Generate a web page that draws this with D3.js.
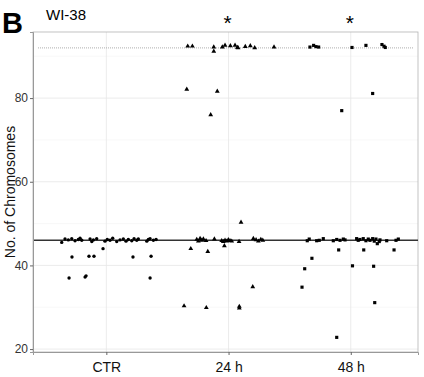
<!DOCTYPE html>
<html>
<head>
<meta charset="utf-8">
<script src="https://cdn.jsdelivr.net/npm/d3@7"></script>
<style>
  body { margin: 0; background: #fff; }
  svg { font-family: "Liberation Sans", Arial, sans-serif; }
</style>
</head>
<body>
<svg width="424" height="377"></svg>
<script>
// categories and tick labels
const groups = ['CTR', '24 h', '48 h'];
const yTicks = [20, 40, 60, 80];
const yMinor = [30, 50, 70, 90];
const refLines = { normal: 46, tetraploid: 92 };

// each point: [jitter offset in category units, number of chromosomes]
const ctrPoints = [
  [-0.365, 45.5], [-0.338, 46.3], [-0.311, 46.1], [-0.283, 46.4], [-0.256, 45.9],
  [-0.229, 46.2], [-0.215, 46.5], [-0.201, 46.0], [-0.133, 46.3], [-0.119, 45.7],
  [-0.106, 46.1], [-0.079, 46.4], [-0.011, 45.8], [0.008, 46.2], [0.030, 46.0],
  [0.052, 46.5], [0.085, 45.7], [0.112, 46.1], [0.139, 46.3], [0.161, 45.8],
  [0.180, 46.2], [0.208, 45.9], [0.227, 46.4], [0.249, 46.0], [0.262, 46.3],
  [0.331, 45.8], [0.344, 46.2], [0.358, 46.4], [0.385, 46.0], [0.407, 46.2],
  [-0.305, 37.0], [-0.281, 42.0], [-0.174, 37.2], [-0.166, 37.5], [-0.142, 42.2],
  [-0.101, 42.2], [-0.027, 44.0], [0.218, 42.0], [0.366, 42.2], [0.358, 37.0]
];

const h24Points = [
  [-0.334, 92.4], [-0.296, 92.4], [-0.121, 92.2], [-0.121, 91.2], [-0.051, 92.2],
  [-0.029, 92.6], [0.015, 92.5], [0.053, 92.6], [0.072, 92.1], [0.078, 92.0],
  [0.137, 92.3], [0.178, 92.5], [0.214, 92.0], [0.372, 92.2],
  [-0.342, 82.1], [-0.092, 81.6], [-0.146, 76.0],
  [-0.260, 46.2], [-0.247, 45.8], [-0.233, 46.4], [-0.219, 46.0], [-0.206, 46.3],
  [-0.184, 45.9], [-0.116, 46.3], [-0.056, 45.9], [-0.043, 45.7], [-0.029, 46.0],
  [-0.015, 45.8], [-0.002, 46.1], [0.012, 45.9], [0.026, 45.8], [0.086, 45.7],
  [0.203, 46.4], [0.225, 46.1], [0.244, 45.8], [0.264, 46.2], [0.280, 46.0],
  [-0.309, 44.0], [-0.170, 43.3], [-0.034, 44.7], [0.102, 50.3], [0.198, 34.9],
  [-0.364, 30.3], [-0.182, 29.9], [0.088, 30.2], [0.088, 29.8]
];

const h48Points = [
  [-0.334, 92.2], [-0.304, 92.6], [-0.285, 92.3], [-0.263, 92.2], [0.010, 92.1],
  [0.124, 92.6], [0.255, 92.8], [0.272, 92.4], [0.282, 92.1],
  [0.179, 81.1], [-0.074, 77.0],
  [-0.356, 45.9], [-0.340, 46.3], [-0.279, 45.9], [-0.258, 46.0], [-0.225, 46.4],
  [-0.143, 45.9], [-0.115, 46.2], [-0.088, 46.0], [-0.061, 46.3], [-0.047, 46.1],
  [0.048, 46.4], [0.061, 46.0], [0.075, 46.2], [0.102, 46.4], [0.124, 45.9],
  [0.143, 46.3], [0.157, 46.0], [0.179, 46.4], [0.192, 45.8], [0.206, 46.3],
  [0.217, 45.2], [0.233, 45.7], [0.239, 46.1], [0.294, 45.9], [0.370, 46.0],
  [0.389, 46.3],
  [-0.099, 43.7], [0.106, 43.7], [0.354, 43.7], [-0.318, 41.7], [-0.377, 39.2],
  [0.014, 39.9], [0.187, 39.8], [-0.399, 34.8], [0.196, 31.1], [-0.115, 22.8]
];

const significant = ['24 h', '48 h'];

const margin = { top: 32, right: 6, bottom: 25, left: 33 };
const width = 424 - margin.left - margin.right;
const height = 377 - margin.top - margin.bottom;

const svg = d3.select('svg');
const g = svg.append('g')
  .attr('transform', 'translate(' + margin.left + ',' + margin.top + ')');

const x = d3.scaleLinear().domain([0.4, 3.55]).range([0, width]);
const y = d3.scaleLinear().domain([19.3, 95.8]).range([height, 0]);
const catX = name => x(groups.indexOf(name) + 1);

// grid
g.selectAll('.minor').data(yMinor).enter().append('line')
  .attr('x1', 0).attr('x2', width)
  .attr('y1', d => y(d)).attr('y2', d => y(d))
  .attr('stroke', '#f3f3f3').attr('stroke-width', 0.6);

g.selectAll('.major').data(yTicks).enter().append('line')
  .attr('x1', 0).attr('x2', width)
  .attr('y1', d => y(d)).attr('y2', d => y(d))
  .attr('stroke', '#e6e6e6').attr('stroke-width', 0.8);

g.selectAll('.vgrid').data(groups).enter().append('line')
  .attr('x1', d => catX(d)).attr('x2', d => catX(d))
  .attr('y1', 0).attr('y2', height)
  .attr('stroke', '#e6e6e6').attr('stroke-width', 0.8);

// panel border
g.append('rect')
  .attr('width', width).attr('height', height)
  .attr('fill', 'none').attr('stroke', '#b3b3b3').attr('stroke-width', 0.8);

// reference lines
g.append('line')
  .attr('x1', 5).attr('x2', width - 5)
  .attr('y1', y(refLines.tetraploid)).attr('y2', y(refLines.tetraploid))
  .attr('stroke', '#999').attr('stroke-width', 0.8)
  .attr('stroke-dasharray', '1,1');

g.append('line')
  .attr('x1', 0).attr('x2', width)
  .attr('y1', y(refLines.normal)).attr('y2', y(refLines.normal))
  .attr('stroke', '#333').attr('stroke-width', 1.4);

// points
const sets = [
  { name: 'CTR', pts: ctrPoints, shape: d3.symbolCircle, size: 9 },
  { name: '24 h', pts: h24Points, shape: d3.symbolTriangle, size: 10 },
  { name: '48 h', pts: h48Points, shape: d3.symbolSquare, size: 10 }
];

sets.forEach(s => {
  const sym = d3.symbol().type(s.shape).size(s.size);
  g.selectAll(null).data(s.pts).enter().append('path')
    .attr('d', sym)
    .attr('transform', d => 'translate(' + x(groups.indexOf(s.name) + 1 + d[0]) + ',' + y(d[1]) + ')')
    .attr('fill', '#000');
});

// axes
const yAxis = g.append('g')
  .call(d3.axisLeft(y).tickValues(yTicks).tickSize(3).tickPadding(2));
yAxis.select('.domain').attr('stroke', '#999');
yAxis.selectAll('.tick line').attr('stroke', '#666');
yAxis.selectAll('text').attr('fill', '#333').style('font-size', '12px');

const xAxis = g.append('g')
  .attr('transform', 'translate(0,' + height + ')')
  .call(d3.axisBottom(x).tickValues([1, 2, 3]).tickFormat(i => groups[i - 1]).tickSize(3).tickPadding(7));
xAxis.select('.domain').attr('stroke', '#999');
xAxis.selectAll('.tick line').attr('stroke', '#666');
xAxis.selectAll('text').attr('fill', '#111').style('font-size', '14px');

// labels
svg.append('text')
  .attr('transform', 'translate(15,' + (margin.top + height / 2) + ') rotate(-90)')
  .attr('text-anchor', 'middle')
  .style('font-size', '14px')
  .attr('fill', '#111')
  .text('No. of Chromosomes');

svg.append('text')
  .attr('x', 2).attr('y', 33)
  .style('font-size', '29px').style('font-weight', 'bold')
  .text('B');

svg.append('text')
  .attr('x', 46).attr('y', 20)
  .style('font-size', '15px')
  .text('WI-38');

svg.selectAll('.star').data(significant).enter().append('text')
  .attr('x', d => margin.left + catX(d) - 1)
  .attr('y', 30)
  .attr('text-anchor', 'middle')
  .style('font-size', '21px')
  .text('*');
</script>
</body>
</html>
